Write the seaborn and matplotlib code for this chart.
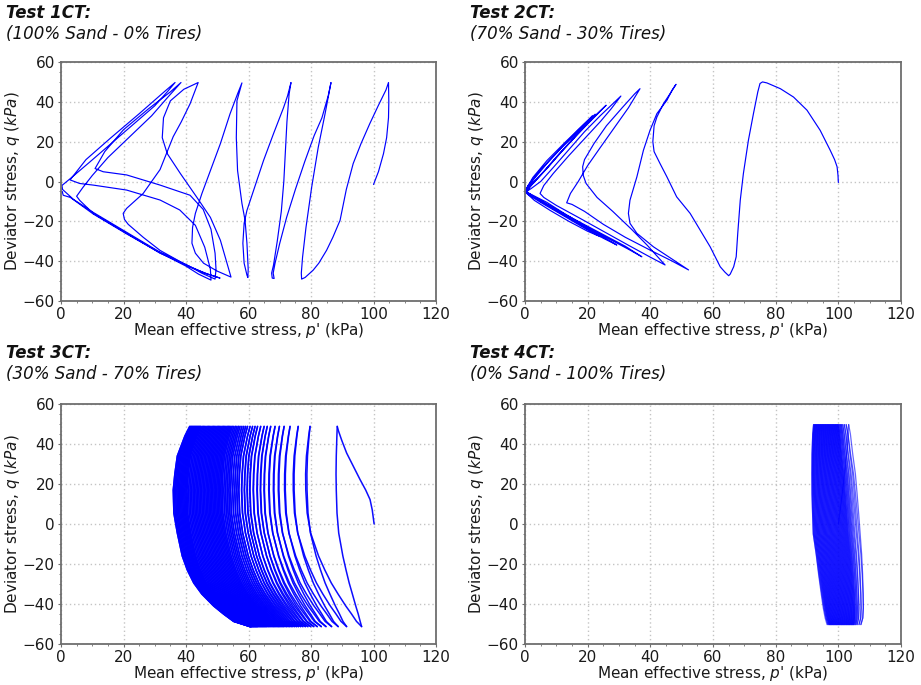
import numpy as np
import pandas as pd
import matplotlib
matplotlib.use("Agg")
import matplotlib.pyplot as plt
import seaborn as sns
from matplotlib.ticker import MultipleLocator

sns.set_theme(style="white")
plt.rcParams["font.family"] = ["DejaVu Sans"]
plt.rcParams["mathtext.fontset"] = "dejavusans"

# ---------------- data ----------------
titles = ["Test 1CT:", "Test 2CT:", "Test 3CT:", "Test 4CT:"]
subtitles = ["(100% Sand - 0% Tires)", "(70% Sand - 30% Tires)",
             "(30% Sand - 70% Tires)", "(0% Sand - 100% Tires)"]
x_ticks = [0, 20, 40, 60, 80, 100, 120]
y_ticks = [-60, -40, -20, 0, 20, 40, 60]

# Test 1CT stress path (p', q)
path_1ct = [
    (100, -1.5), (101.6, 5), (103.2, 14), (104.2, 22), (104.8, 32), (104.9, 40), (104.8, 49.7),
    (104.0, 46), (101.5, 38), (98.8, 29), (96, 19), (93.5, 9), (91.3, -4), (89.3, -19.5), (87, -28),
    (85, -34.5), (82.5, -41), (80.7, -44.5), (78.1, -48.2), (77, -49),
    (76.9, -46), (77.3, -38), (78.4, -23), (80.2, -3), (82.3, 17), (84.5, 34), (86.4, 49.7),
    (85.5, 43), (83.5, 32), (81, 23), (78, 10), (75, -4), (72.2, -18), (70, -31), (68.5, -41),
    (67.9, -46), (68.2, -48.7), (67.6, -48.5),
    (67.4, -46), (68, -42), (69.2, -30), (70.5, -15), (71.3, 0), (71.8, 15), (72.3, 30), (73, 44), (73.6, 49.7),
    (72.5, 43), (71.2, 37), (68, 24), (64.8, 10.5), (61.6, -4.5), (59.5, -14.5), (58.6, -21), (58.2, -31),
    (58.6, -41), (59.5, -47), (59.8, -48.2),
    (59.9, -44), (59.5, -31), (58.9, -19.5), (57.9, -11), (56.5, 5.5), (56.1, 22), (56.3, 40.5), (57.9, 49.5),
    (56.5, 44), (54.1, 34), (51, 19), (47.8, 5.5), (45.1, -6), (43, -16), (42.1, -23), (41.9, -31),
    (43, -36), (45.6, -41), (50, -45), (54.4, -48),
    (53.1, -41), (51, -29.5), (47.8, -18), (43.5, -8), (38.2, 4), (34, 14), (32.4, 22), (32.8, 32),
    (35, 40.5), (39.3, 46.3), (43.9, 49.7),
    (41.3, 39), (38.5, 30), (35.9, 22.5), (31.7, 6), (26.3, -6), (21, -13.5), (19.9, -16), (20.3, -19),
    (21.5, -21.5), (26.3, -28), (31.7, -34.6), (41.3, -43), (47, -46.5), (50.9, -48.5),
    (46, -46), (41.3, -42.7), (31.7, -36), (21, -26), (10.3, -16), (6, -9.5), (5, -7.4),
    (7, -3), (10, 3), (15, 12), (22, 22.5), (29, 33), (34, 42), (38.4, 49.7),
    (35, 45), (28, 36.5), (20, 26), (14, 15), (10.9, 6.5), (13.5, 4.9), (21, 3.3), (31.7, -1.8),
    (41.3, -6.9), (45.5, -14), (48, -24), (49.3, -36), (49.6, -44), (49.3, -49),
    (45, -46), (41, -42.5), (31.7, -35.5), (21, -25.5), (10.3, -15.5), (4, -9), (0.5, -4), (0.3, -2),
    (3, 1.5), (9, 9.5), (16, 19), (23, 28.5), (30, 38), (34, 45), (36.5, 49.7),
    (33, 45), (25, 34), (16, 22), (8, 11), (2.9, 0.8), (6, -1), (10.3, -1.8), (21, -4.3), (31.7, -9.3),
    (38, -14.3), (43, -22), (46, -33), (47.8, -44), (48, -49.5),
    (44, -46.5), (40, -42.5), (31.7, -35.8), (21, -26.3), (10.3, -16.3), (3, -8), (0.7, -6.9), (0.4, -5),
]

# Test 2CT stress path (p', q)
path_2ct = [
    (100, -0.5), (99.9, 3), (99.6, 7.4), (98.8, 11), (97.4, 15.7), (94.2, 25.7), (90, 35.8), (85.7, 42.4),
    (81.5, 46.6), (77.2, 49.5), (75.8, 50), (75, 49.2),
    (74.3, 45), (72.9, 34), (71.3, 20.7), (69.7, 4), (68.7, -9.4), (67.9, -26), (67.4, -37.8), (66.6, -42.8),
    (65.5, -46.5), (65, -47.3),
    (63.8, -45.5), (62.3, -42.8), (59.1, -32.8), (55.9, -24.4), (52.7, -16), (48.4, -7.7), (45.3, 2.3),
    (43.1, 9), (41.2, 15), (40.8, 20), (41.2, 28), (42.1, 32.4), (44.2, 39.1), (46.3, 44.1), (48.2, 48.8),
    (47, 46), (45.3, 40.8), (42.1, 34.1), (39.9, 25.7), (37.8, 15.7), (35.7, 2.3), (33.5, -9.4), (33, -16),
    (33.5, -21), (35.7, -26), (41, -32.8), (47.4, -39.4), (52.2, -44.4),
    (47, -40), (40, -34.5), (32, -28), (25, -21.5), (19, -15), (15, -11.5), (13.3, -10.7), (14.5, -6),
    (17, 0), (20, 8), (24, 17), (28.5, 27), (33, 37), (36.7, 46.6),
    (35, 44), (31, 37), (26, 28), (22, 19), (19, 11), (18.4, 7.4), (18.6, 3), (19.5, -1), (23, -8),
    (28, -15), (34, -24), (39, -32), (44.7, -41.9),
    (40, -38), (33, -32), (25, -25), (17, -18), (10, -12), (6, -8), (4.8, -6), (6, -2), (9, 4), (14, 13),
    (19, 21.5), (24, 30), (27.5, 36.5), (30.6, 42.9),
    (28, 39), (24, 33), (19, 25), (14, 16), (9, 7), (5, 0), (2, -3.5), (0.5, -5), (3, -8), (8, -12.5),
    (14, -17.5), (20, -22.5), (26, -27.5), (32, -32.5), (37.3, -37.8),
    (33, -34), (27, -29), (20, -23), (13, -16.5), (7, -10.5), (2, -6.5), (0.2, -5.2), (2, -1.5), (6, 5),
    (11, 14), (16, 22.5), (21, 30.5), (25.9, 38.3),
    (23, 34), (18, 26.5), (12, 17.5), (7, 9), (3, 1.5), (0.5, -4), (0.1, -5.2), (4, -9), (10, -14),
    (17, -20.5), (23.5, -26.5), (29.3, -31.9),
    (25, -28.5), (18, -22.5), (11, -16), (5, -10.5), (1, -6.5), (0, -5.2), (2.5, -1), (7, 6.5), (12, 15.5),
    (17, 24), (20.5, 30), (22.4, 33.8),
    (19, 29), (13, 20), (7, 10.5), (2.5, 2), (0.3, -4), (0.2, -5.3), (5, -10), (11, -15.5), (17.5, -21.5),
    (24, -27.7),
    (20, -25), (14, -20), (8, -14.5), (3, -9.5), (0.3, -5.6), (2, -2), (6, 5), (11, 14), (16.5, 23.5),
    (21.5, 33),
    (17, 26), (11, 16), (5, 6), (1, -2), (0.1, -5), (5, -9.5), (11, -15), (17, -21), (23, -27),
]

# Test 3CT: first loading branch, then cycle turning points (p' at q = +49 and q = -51)
start_3ct = [(100.2, 0), (99.6, 7), (98.9, 12.2), (97.5, 17), (95.7, 22.2), (93.5, 29), (91.4, 35.5),
             (89.8, 42), (88.8, 46.5), (88.4, 48.8)]
tops_3ct = [88.4, 79.7, 75.9, 73.3, 71.4, 69.9, 68.5, 67.1, 66.0, 65.0,
            63.9, 62.9, 62.1, 61.3, 60.5, 59.7, 59.1, 58.5, 57.9, 57.3,
            56.8, 56.3, 55.8, 55.3, 54.8, 54.4, 54.0, 53.6, 53.2, 52.8,
            52.4, 52.0, 51.6, 51.2, 50.8, 50.4, 50.0, 49.6, 49.2, 48.8,
            48.4, 48.0, 47.6, 47.2, 46.8, 46.4, 46.0, 45.6, 45.2, 44.8,
            44.5, 44.2, 43.9, 43.6, 43.3, 43.0, 42.7, 42.4, 42.1, 41.8,
            41.5, 41.2]
bots_3ct = [96.2, 91.4, 88.7, 86.6, 84.8, 83.3, 82.0, 80.9, 79.9, 79.0,
            78.2, 77.4, 76.7, 76.0, 75.4, 74.8, 74.2, 73.7, 73.2, 72.7,
            72.2, 71.7, 71.2, 70.8, 70.4, 70.0, 69.6, 69.2, 68.8, 68.4,
            68.0, 67.6, 67.2, 66.8, 66.4, 66.0, 65.7, 65.4, 65.1, 64.8,
            64.5, 64.2, 63.9, 63.6, 63.3, 63.0, 62.8, 62.6, 62.4, 62.2,
            62.0, 61.8, 61.6, 61.4, 61.2, 61.0, 60.9, 60.8, 60.7, 60.6,
            60.5, 60.5]
# branch shape: relative position between top and bottom p' at each q level
q_levels_3ct = [48.8, 44, 34, 25, 17, 5.5, -4.5, -16, -23, -29.5, -35, -41, -45, -48.7, -51.3]
shape_outer_3ct = [0, -0.015, -0.04, -0.05, -0.04, -0.01, 0.06, 0.23, 0.36, 0.49, 0.62, 0.76, 0.86, 0.94, 1.0]
shape_inner_3ct = [0, -0.08, -0.206, -0.247, -0.273, -0.263, -0.206, -0.124, -0.04, 0.067, 0.2, 0.397,
                   0.56, 0.727, 1.0]

# Test 4CT
start_4ct = [(100, 0), (101, 12), (102, 25), (102.8, 38), (103.3, 49.7)]
tops_4ct = [103.3, 102.5, 101.9, 101.4, 101.0, 100.7, 100.4, 100.1, 99.9, 99.7,
            99.5, 99.3, 99.1, 98.9, 98.7, 98.5, 98.3, 98.1, 97.9, 97.7,
            97.5, 97.3, 97.1, 96.9, 96.7, 96.5, 96.3, 96.1, 95.9, 95.7,
            95.5, 95.3, 95.1, 94.9, 94.7, 94.5, 94.3, 94.1, 93.9, 93.7,
            93.5, 93.3, 93.1, 92.9, 92.7, 92.5, 92.3, 92.1]
bots_4ct = [107.2, 106.6, 106.0, 105.6, 105.3, 105.0, 104.8, 104.6, 104.4, 104.2,
            104.0, 103.8, 103.6, 103.4, 103.2, 103.0, 102.8, 102.6, 102.4, 102.2,
            102.0, 101.8, 101.6, 101.4, 101.2, 101.0, 100.8, 100.6, 100.4, 100.2,
            100.0, 99.8, 99.6, 99.4, 99.2, 99.0, 98.8, 98.6, 98.4, 98.2,
            98.0, 97.8, 97.6, 97.4, 97.2, 97.0, 96.7, 96.4]
q_levels_4ct = [49.7, 45, 35, 25, 15, 5, -5, -15, -25, -35, -42, -47, -50.3]
shape_outer_4ct = [0, 0.14, 0.33, 0.55, 0.69, 0.82, 0.94, 1.06, 1.14, 1.19, 1.2, 1.15, 1.0]
shape_inner_4ct = [0, -0.06, -0.11, -0.12, -0.11, -0.07, -0.02, 0.19, 0.37, 0.57, 0.72, 0.86, 1.0]


def cyclic_path(start, tops, bots, q_levels, shape_out, shape_in):
    """One row per point; 'seg' numbers each half-cycle so that overlaps build up."""
    rows = [(a, b, 0) for a, b in start]
    n = min(len(tops), len(bots))
    ql = np.array(q_levels)
    so, si = np.array(shape_out), np.array(shape_in)
    t0, tl = tops[0], tops[n - 1]

    def shape(t):
        w = (t0 - t) / (t0 - tl)
        return (1 - w) * so + w * si

    seg = 1
    for i in range(n):
        T, B = tops[i], bots[i]
        down = T + (B - T) * shape(T)
        rows += [(a, b, seg) for a, b in zip(down, ql)]
        seg += 1
        if i + 1 < n:
            T2 = tops[i + 1]
            up = T2 + (B - T2) * shape(T2)
            rows += [(a, b, seg) for a, b in zip(up[::-1], ql[::-1])]
            seg += 1
    return pd.DataFrame(rows, columns=["p", "q", "seg"])


df1 = pd.DataFrame(path_1ct, columns=["p", "q"])
df2 = pd.DataFrame(path_2ct, columns=["p", "q"])
df3 = cyclic_path(start_3ct, tops_3ct, bots_3ct, q_levels_3ct, shape_outer_3ct, shape_inner_3ct)
df4 = cyclic_path(start_4ct, tops_4ct, bots_4ct, q_levels_4ct, shape_outer_4ct, shape_inner_4ct)

# ---------------- figure ----------------
fig = plt.figure(figsize=(9.21, 6.85), dpi=100)
W, H = 921.0, 685.0
boxes = [(61, 62, 375, 239), (525, 62, 376, 239), (61, 404, 375, 240), (525, 404, 376, 240)]
title_pos = [(6, 13, 34), (470, 13, 34), (6, 353, 374), (470, 353, 374)]
dfs = [df1, df2, df3, df4]
lws = [0.85, 0.85, 1.1, 0.9]
alphas = [1.0, 1.0, 0.95, 0.6]

for k in range(4):
    x0, y0, w, h = boxes[k]
    ax = fig.add_axes([x0 / W, 1 - (y0 + h) / H, w / W, h / H])
    if "seg" in dfs[k].columns:
        sns.lineplot(data=dfs[k], x="p", y="q", units="seg", sort=False, estimator=None,
                     color="#0000ff", lw=lws[k], alpha=alphas[k], ax=ax)
    else:
        sns.lineplot(data=dfs[k], x="p", y="q", sort=False, estimator=None,
                     color="#0000ff", lw=lws[k], alpha=alphas[k], ax=ax)
    ax.set_xlim(0, 120)
    ax.set_ylim(-60, 60)
    ax.set_xticks(x_ticks)
    ax.set_yticks(y_ticks)
    ax.xaxis.set_minor_locator(MultipleLocator(5))
    ax.yaxis.set_minor_locator(MultipleLocator(5))
    ax.grid(True, which="major", color="#c4c4c4", linestyle=(0, (1, 2)), lw=1.0)
    ax.set_axisbelow(True)
    for s in ax.spines.values():
        s.set_color("#6e6e6e")
        s.set_linewidth(1.3)
    ax.tick_params(which="major", direction="out", length=2.5, width=0.8, color="#6e6e6e",
                   labelsize=11, labelcolor="#1a1a1a", pad=2)
    ax.tick_params(which="minor", direction="out", length=1.5, width=0.6, color="#6e6e6e")
    ax.tick_params(axis="x", which="both", bottom=True)
    ax.tick_params(axis="y", which="both", left=True)
    ax.set_xlabel(r"Mean effective stress, $\mathit{p}$' (kPa)", fontsize=11, color="#1a1a1a")
    ax.set_ylabel(r"Deviator stress, $\mathit{q\ (kPa)}$", fontsize=11, color="#1a1a1a")
    ax.xaxis.set_label_coords(0.5, -0.085)
    ax.yaxis.set_label_coords(-0.104, 0.5)
    tx, ty1, ty2 = title_pos[k]
    fig.text(tx / W, 1 - ty1 / H, titles[k], fontsize=12, fontweight="bold", fontstyle="italic",
             va="center", ha="left", color="#111111")
    fig.text(tx / W, 1 - ty2 / H, subtitles[k], fontsize=12, fontstyle="italic",
             va="center", ha="left", color="#111111")

fig.savefig("out.png", dpi=100)
